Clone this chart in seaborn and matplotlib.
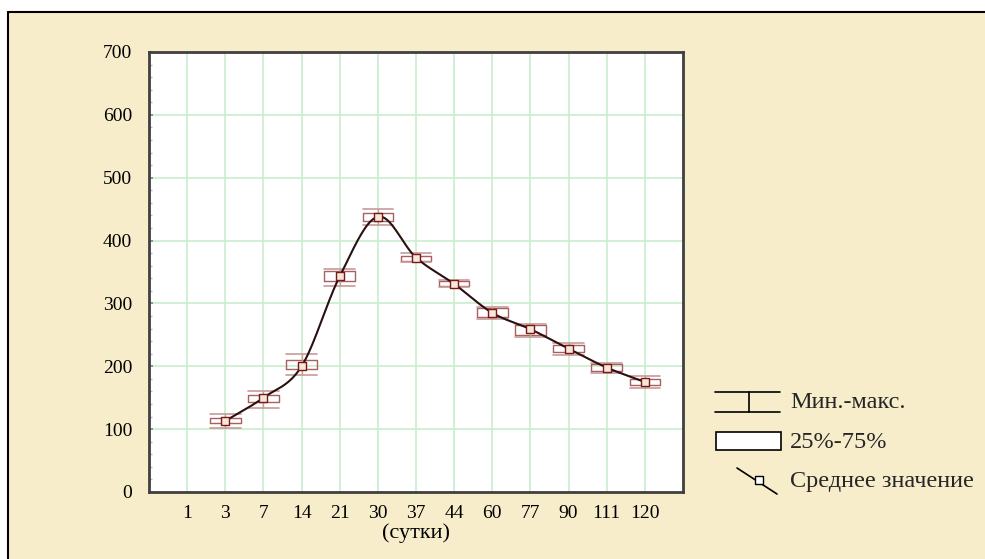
import numpy as np
import seaborn as sns
import matplotlib.pyplot as plt
from matplotlib.patches import Rectangle
from matplotlib.lines import Line2D

days = ["1", "3", "7", "14", "21", "30", "37", "44", "60", "77", "90", "111", "120"]
# summary per day ("1" has no data)
means = [np.nan, 113, 150, 200, 343, 438, 373, 331, 285, 259, 228, 198, 175]
q1 = [np.nan, 110, 143, 196, 336, 431, 368, 327, 278, 250, 222, 193, 170]
q3 = [np.nan, 117, 155, 210, 351, 444, 376, 335, 292, 265, 234, 204, 179]
mins = [np.nan, 102, 133, 186, 328, 425, 366, 326, 275, 247, 218, 190, 165]
maxs = [np.nan, 124, 160, 220, 355, 450, 380, 338, 295, 267, 237, 205, 185]

BG = "#F8EDCB"
BOX_C = "#A86060"
CAP_C = "#C89A9A"


def smooth_curve(x, y, n=400):
    # Catmull-Rom hermite curve through the means
    x = np.asarray(x, float)
    y = np.asarray(y, float)
    k = len(x)
    m = np.zeros(k)
    m[1:-1] = (y[2:] - y[:-2]) / (x[2:] - x[:-2])
    m[0] = (y[1] - y[0]) / (x[1] - x[0])
    m[-1] = (y[-1] - y[-2]) / (x[-1] - x[-2])
    xs = np.linspace(x[0], x[-1], n)
    ys = np.empty_like(xs)
    for j, xv in enumerate(xs):
        i = min(np.searchsorted(x, xv, side="right") - 1, k - 2)
        h = x[i + 1] - x[i]
        t = (xv - x[i]) / h
        h00 = 2 * t ** 3 - 3 * t ** 2 + 1
        h10 = t ** 3 - 2 * t ** 2 + t
        h01 = -2 * t ** 3 + 3 * t ** 2
        h11 = t ** 3 - t ** 2
        ys[j] = h00 * y[i] + h10 * h * m[i] + h01 * y[i + 1] + h11 * h * m[i + 1]
    return xs, ys


sns.set_theme(style="white")
plt.rcParams["font.family"] = ["Liberation Serif", "DejaVu Serif"]

W, H = 985, 559
fig = plt.figure(figsize=(W / 100, H / 100), dpi=100, facecolor="white")

# beige panel with black border on left/top
fig.patches.append(Rectangle((8 / W, 0), 1, (H - 12) / H, transform=fig.transFigure,
                             facecolor=BG, edgecolor="none", zorder=-10))
fig.lines.append(Line2D([8 / W, 8 / W], [0, (H - 12) / H], transform=fig.transFigure,
                        color="black", lw=1.5))
fig.lines.append(Line2D([8 / W, 1], [(H - 12) / H, (H - 12) / H], transform=fig.transFigure,
                        color="black", lw=1.5))

ax = fig.add_axes([149 / W, (H - 492) / H, (683 - 149) / W, (492 - 52) / H])
ax.set_facecolor("white")

pos = np.arange(1, len(days) + 1)
valid = [i for i in range(len(days)) if not np.isnan(means[i])]

stats = []
for i in valid:
    stats.append(dict(med=means[i], q1=q1[i], q3=q3[i], whislo=mins[i], whishi=maxs[i],
                      mean=means[i], fliers=[]))
ax.bxp(stats, positions=pos[valid], widths=0.8, capwidths=0.8, showfliers=False,
       boxprops=dict(color=BOX_C, lw=1),
       whiskerprops=dict(color=CAP_C, lw=1),
       capprops=dict(color=CAP_C, lw=1.2),
       medianprops=dict(lw=0), manage_ticks=False)

xs, ys = smooth_curve(pos[valid], np.array(means)[valid])
sns.lineplot(x=xs, y=ys, ax=ax, color="#2A1010", lw=1.5, zorder=4)
sns.scatterplot(x=pos[valid], y=np.array(means)[valid], ax=ax, marker="s", s=26,
                facecolor="#F4E8D8", edgecolor="#7A1818", linewidth=1, zorder=5)

ax.set_xlim(0, len(days) + 1)
ax.set_ylim(0, 700)
ax.set_xticks(pos)
ax.set_xticklabels(days)
ax.set_yticks(range(0, 701, 100))
ax.set_yticks(range(0, 701, 20), minor=True)
ax.grid(True, which="major", color="#C8EECC", lw=1.2)
ax.tick_params(axis="both", which="major", labelsize=14, length=0, pad=9, colors="black")
ax.tick_params(axis="y", which="minor", left=True, direction="in", length=2, color="#BBBBBB")
ax.tick_params(axis="y", which="major", left=True, direction="in", length=3, color="#888888", pad=12)
for s in ax.spines.values():
    s.set_color("#404040")
    s.set_linewidth(2)
ax.set_xlabel("(сутки)", fontsize=16, labelpad=1, color="black")

# legend drawn by hand on the right
lg = fig.add_axes([0, 0, 1, 1], facecolor="none")
lg.set_xlim(0, W)
lg.set_ylim(H, 0)
lg.axis("off")
lg.plot([715, 780], [392, 392], color="black", lw=1.2)
lg.plot([715, 780], [412, 412], color="black", lw=1.2)
lg.plot([749, 749], [392, 412], color="black", lw=1.2)
lg.add_patch(Rectangle((716, 432), 65, 18, facecolor="white", edgecolor="black", lw=1.2))
lg.plot([737, 777], [468, 494], color="black", lw=1.2)
lg.add_patch(Rectangle((755, 476), 8, 8, facecolor="white", edgecolor="black", lw=1, zorder=3))
lg.text(790, 402, "Мин.-макс.", fontsize=17.5, va="center", ha="left")
lg.text(790, 442, "25%-75%", fontsize=17.5, va="center", ha="left")
lg.text(790, 482, "Среднее значение", fontsize=17.5, va="center", ha="left")

fig.savefig("out.png", dpi=100, facecolor=fig.get_facecolor())
